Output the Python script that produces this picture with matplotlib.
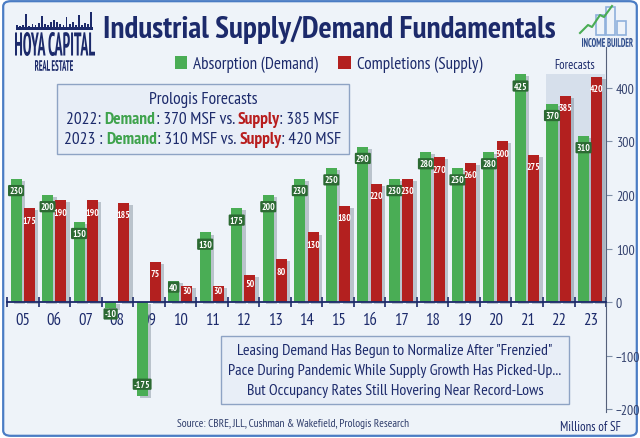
import numpy as np
import matplotlib
matplotlib.use("Agg")
import matplotlib.pyplot as plt
from matplotlib import patheffects as pe
from matplotlib.patches import Rectangle, FancyBboxPatch, PathPatch
from matplotlib.offsetbox import TextArea, HPacker, VPacker, AnchoredOffsetbox
from matplotlib.textpath import TextPath
from matplotlib.font_manager import FontProperties
from matplotlib.transforms import Affine2D, IdentityTransform
from matplotlib.lines import Line2D

# Data (millions of SF)
years = ["05", "06", "07", "08", "09", "10", "11", "12", "13", "14",
         "15", "16", "17", "18", "19", "20", "21", "22", "23"]
absorption = [230, 200, 150, -10, -175, 40, 130, 175, 200, 230,
              250, 290, 230, 280, 250, 280, 425, 370, 310]
completions = [175, 190, 190, 185, 75, 30, 30, 50, 80, 130,
               180, 220, 230, 270, 260, 300, 275, 385, 420]
forecast_start = 17  # index of "22"

navy = "#1c2a6b"
green = "#4aad55"
red = "#b3201f"
font = ["PT Sans Narrow", "DejaVu Sans"]
plt.rcParams["font.family"] = font

W, H = 640, 439
fig = plt.figure(figsize=(6.4, 4.39), dpi=100)
fig.patch.set_facecolor("white")
fig.add_artist(FancyBboxPatch((0.005, 0.005), 0.99, 0.99,
                              boxstyle="round,pad=0,rounding_size=0.012",
                              transform=fig.transFigure, fc="#eef3f9",
                              ec="#4a7cc4", lw=1.6, zorder=-10))

ax = fig.add_axes([0.011, 0.059, 0.936, 0.832])
ax.set_facecolor("none")

x = np.arange(len(years))
w = 0.35
gb = ax.bar(x - 0.215, absorption, w, color=green, label="Absorption (Demand)", zorder=3)
rb = ax.bar(x + 0.205, completions, w, color=red, label="Completions (Supply)", zorder=3)

leg = ax.legend(loc="center", bbox_to_anchor=(0.513, 0.852), bbox_transform=fig.transFigure,
                ncol=2, frameon=False, fontsize=12.3, handlelength=0.75, handleheight=0.75,
                handletextpad=0.35, columnspacing=1.15)
for t in leg.get_texts():
    t.set_color(navy)

shadow = [pe.SimplePatchShadow(offset=(2.5, -1.5), shadow_rgbFace="#445566", alpha=0.3), pe.Normal()]
for b in list(gb) + list(rb):
    b.set_path_effects(shadow)


def bar_label(xp, v, fc, box):
    if v > 0:
        y = v - min(22, 0.3 * v)
    elif v > -30:
        y = -22
    else:
        y = v + 22
    kw = dict(ha="center", va="center", fontsize=6.8, fontweight="bold", color="white", zorder=5)
    if box:
        kw["bbox"] = dict(boxstyle="round,pad=0.12", fc=fc, ec="none")
    ax.text(xp, y, str(v), **kw)


for i in range(len(years)):
    bar_label(x[i] - 0.215, absorption[i], "#2c6a33", True)
    bar_label(x[i] + 0.205, completions[i], red, False)

# forecast shading
ax.add_patch(Rectangle((forecast_start - 0.4, 0), 1.85, 425, fc="#d6dfeb", ec="none", zorder=1))
ax.text(forecast_start + 0.5, 444, "Forecasts", ha="center", va="center", fontsize=9, color=navy)

ax.set_xlim(-0.5, len(years) - 0.5)
ax.set_ylim(-205, 476)

ax.spines[["left", "top"]].set_visible(False)
ax.spines["bottom"].set_position(("data", 0))
ax.spines["bottom"].set_color(navy)
ax.spines["bottom"].set_linewidth(1.3)
ax.spines["bottom"].set_zorder(4)
ax.spines["right"].set_color("#55607a")
ax.spines["right"].set_linewidth(0.8)

ax.set_xticks(np.arange(-0.5, len(years)), [""] * (len(years) + 1))
ax.set_xticks(x, years, minor=True)
ax.tick_params(axis="x", which="major", direction="inout", length=7, width=1.2, color=navy)
ax.tick_params(axis="x", which="minor", length=0, pad=7, labelsize=12, labelcolor=navy)

ax.yaxis.tick_right()
ax.set_yticks([-200, -100, 0, 100, 200, 300, 400])
ax.tick_params(axis="y", direction="out", length=4, width=0.8, color="#8090a8",
               pad=3, labelsize=10, labelcolor="#34426e")


def ta(s, color=navy, weight="normal", style="normal", size=12.5):
    return TextArea(s, textprops=dict(color=color, fontsize=size, fontweight=weight,
                                      fontstyle=style, family=font))


def boxed(lines, center, pad, sep):
    box = VPacker(children=lines, align="center", pad=0, sep=sep)
    a = AnchoredOffsetbox(loc="center", child=box, pad=pad, borderpad=0, frameon=True,
                          bbox_to_anchor=center, bbox_transform=fig.transFigure)
    a.patch.set(fc="#e8eef7", ec="#8ea3c4", lw=1.0)
    a.set_zorder(6)
    ax.add_artist(a)


dg, dr = "#3fa34d", "#b81d1d"
boxed([ta("Prologis Forecasts", style="italic"),
       HPacker(children=[ta("2022: "), ta("Demand", dg, "bold"), ta(": 370 MSF vs. "),
                         ta("Supply", dr, "bold"), ta(": 385 MSF")], pad=0, sep=0),
       HPacker(children=[ta("2023 : "), ta("Demand", dg, "bold"), ta(": 310 MSF vs. "),
                         ta("Supply", dr, "bold"), ta(": 420 MSF")], pad=0, sep=0)],
      (0.317, 0.727), 0.5, 3)

bsz = 11.4
boxed([ta('Leasing Demand Has Begun to Normalize After "Frenzied"', size=bsz),
       ta("Pace During Pandemic While Supply Growth Has Picked-Up...", size=bsz),
       ta("But Occupancy Rates Still Hovering Near Record-Lows", size=bsz)],
      (0.617, 0.155), 0.55, 4)

src = fig.text(0.458, 0.034, "Source: CBRE, JLL, Cushman & Wakefield, Prologis Research",
               ha="center", va="center", fontsize=9, color="#2f3d6b")
mil = fig.text(0.922, 0.027, "Millions of SF", ha="center", va="center", fontsize=11, color=navy)
title = fig.text(0.514, 0.932, "Industrial Supply/Demand Fundamentals", ha="center", va="center",
                 fontsize=22, fontweight="bold", color=navy)

# scale a few texts to the widths seen in the reference
fig.canvas.draw()
r = fig.canvas.get_renderer()
for t, target in [(title, 452), (src, 232), (mil, 61)]:
    t.set_fontsize(t.get_fontsize() * target / t.get_window_extent(r).width)


# logos (pixel coords from top-left)
def fit_text(s, x0, y0, x1, y1, color, weight="bold"):
    tp = TextPath((0, 0), s, size=10, prop=FontProperties(family=font, weight=weight))
    ext = tp.get_extents()
    tr = (Affine2D().translate(-ext.x0, -ext.y0)
          .scale((x1 - x0) / ext.width, (y1 - y0) / ext.height)
          .translate(x0, H - y1))
    fig.add_artist(PathPatch(tr.transform_path(tp), fc=color, ec="none",
                             transform=IdentityTransform()))


fit_text("HOYA CAPITAL", 15, 33, 95, 57, navy)
fit_text("REAL ESTATE", 35, 61, 73, 72, navy)
skyline = [3, 2, 3, 14, 2, 4, 3, 5, 12, 4, 3, 6, 8, 6, 4, 3, 11, 4, 6, 3, 13, 3, 5, 4, 16]
fig.add_artist(Rectangle((16, H - 31), 77, 3, fc=navy, ec="none", transform=IdentityTransform()))
for k, hgt in enumerate(skyline):
    fig.add_artist(Rectangle((16 + k * 3.1, H - 29), 1.8, hgt, fc=navy, ec="none",
                             transform=IdentityTransform()))

fit_text("INCOME BUILDER", 582, 39, 633, 48, "#2b4a8a")
for bx, bh in [(596, 20), (606, 28), (617, 14)]:
    fig.add_artist(Rectangle((bx, H - 36), 9, bh, fc="none", ec="#8fb0dc", lw=1.2,
                             transform=IdentityTransform()))
fig.add_artist(Line2D([580, 588, 592, 600, 604, 612], [H - 34, H - 26, H - 28, H - 16, H - 18, H - 7],
                      color="#4aad55", lw=1.5, transform=IdentityTransform()))

fig.savefig("out.png", dpi=100)
